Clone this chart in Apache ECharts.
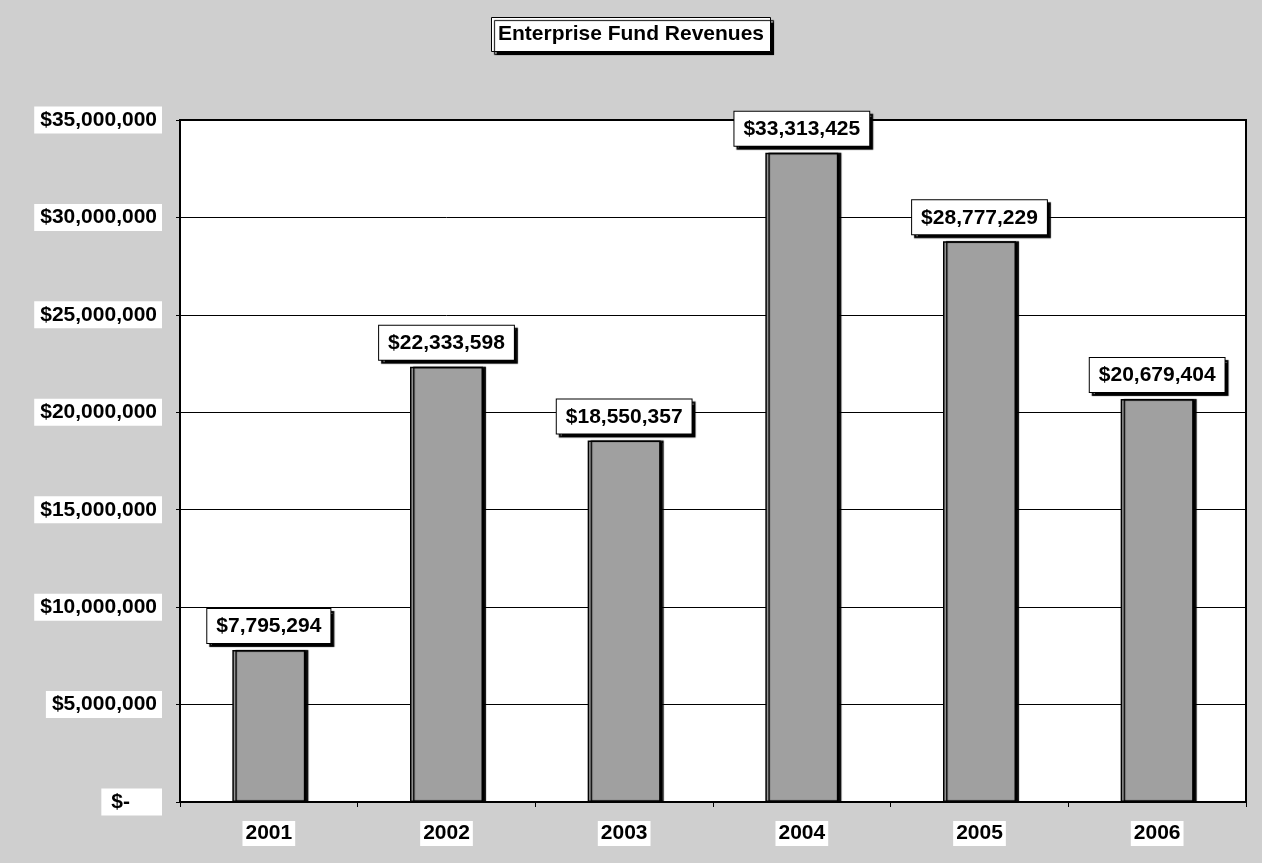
<!DOCTYPE html>
<html>
<head>
<meta charset="utf-8">
<title>Enterprise Fund Revenues</title>
<script src="https://cdn.jsdelivr.net/npm/echarts@6/dist/echarts.min.js"></script>
<style>
  html, body { margin: 0; padding: 0; background: #cfcfcf; }
  #chart { width: 1262px; height: 863px; }
</style>
</head>
<body>
<div id="chart"></div>
<script>
// Fiscal years and total enterprise fund revenues
const years = ['2001', '2002', '2003', '2004', '2005', '2006'];
const revenues = [7795294, 22333598, 18550357, 33313425, 28777229, 20679404];

// Value axis range
const axisMin = 0;
const axisMax = 35000000;
const axisStep = 5000000;

const FONT = 'Liberation Sans, Arial, sans-serif';
const SIZE = 21;

function money(v) {
  return '$' + Math.round(v).toLocaleString('en-US');
}

const chart = echarts.init(document.getElementById('chart'), null, { renderer: 'canvas' });

chart.setOption({
  backgroundColor: '#cfcfcf',
  animation: false,
  title: {
    text: 'Enterprise Fund Revenues',
    left: 'center',
    top: 17,
    padding: [7, 7, 7, 7],
    backgroundColor: '#ffffff',
    borderColor: '#000000',
    borderWidth: 1,
    shadowColor: '#000000',
    shadowBlur: 1,
    shadowOffsetX: 3,
    shadowOffsetY: 3,
    textStyle: {
      fontFamily: FONT,
      fontSize: SIZE,
      fontWeight: 'bold',
      color: '#000000'
    }
  },
  grid: {
    left: 180,
    right: 16,
    top: 120,
    bottom: 61,
    show: true,
    backgroundColor: '#ffffff',
    borderColor: '#000000',
    borderWidth: 2
  },
  xAxis: {
    type: 'category',
    data: years,
    axisLine: { show: true, lineStyle: { color: '#000000', width: 2 } },
    axisTick: { show: true, length: 5, lineStyle: { color: '#000000', width: 1 } },
    axisLabel: {
      margin: 19,
      fontFamily: FONT,
      fontSize: SIZE,
      fontWeight: 'bold',
      color: '#000000',
      backgroundColor: '#ffffff',
      padding: [2, 3, 2, 3]
    }
  },
  yAxis: {
    type: 'value',
    min: axisMin,
    max: axisMax,
    interval: axisStep,
    axisLine: { show: true, lineStyle: { color: '#000000', width: 2 } },
    axisTick: { show: true, length: 4, lineStyle: { color: '#000000' } },
    splitLine: { show: true, lineStyle: { color: '#000000', width: 1 } },
    axisLabel: {
      margin: 18,
      fontFamily: FONT,
      fontSize: SIZE,
      fontWeight: 'bold',
      color: '#000000',
      formatter: function (v) {
        return v === 0 ? '{z|$-}' : '{n|' + money(v) + '}';
      },
      rich: {
        n: {
          fontFamily: FONT,
          fontSize: SIZE,
          fontWeight: 'bold',
          color: '#000000',
          backgroundColor: '#ffffff',
          padding: [3, 5, 3, 6]
        },
        z: {
          fontFamily: FONT,
          fontSize: SIZE,
          fontWeight: 'bold',
          color: '#000000',
          backgroundColor: '#ffffff',
          padding: [3, 32, 3, 10]
        }
      }
    }
  },
  series: [{
    type: 'bar',
    data: revenues,
    barWidth: 73,
    itemStyle: {
      color: '#a0a0a0',
      borderColor: '#000000',
      borderWidth: 1.5,
      shadowColor: '#000000',
      shadowBlur: 1,
      shadowOffsetX: 3,
      shadowOffsetY: 0
    },
    label: {
      show: true,
      position: 'top',
      distance: 7,
      formatter: function (p) { return money(p.value); },
      fontFamily: FONT,
      fontSize: SIZE,
      fontWeight: 'bold',
      color: '#000000',
      backgroundColor: '#ffffff',
      borderColor: '#000000',
      borderWidth: 1,
      padding: [7, 9, 6, 9],
      shadowColor: '#000000',
      shadowBlur: 1,
      shadowOffsetX: 3,
      shadowOffsetY: 3
    }
  }]
});
</script>
</body>
</html>
